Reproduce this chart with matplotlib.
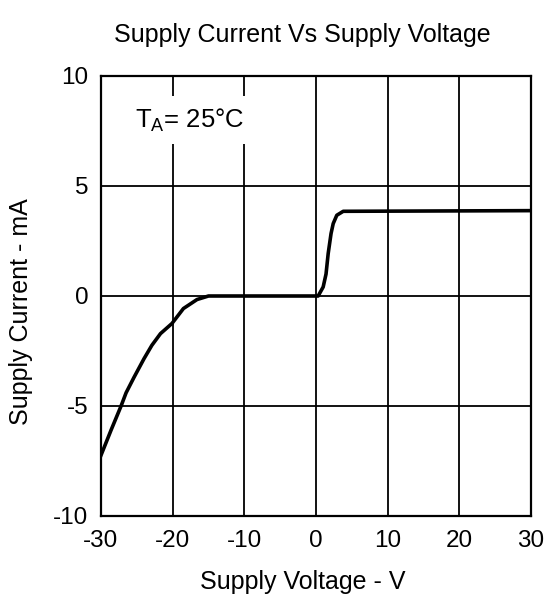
import numpy as np
import matplotlib.pyplot as plt

plt.rcParams['font.family'] = ['Liberation Sans', 'DejaVu Sans']
plt.rcParams['mathtext.fontset'] = 'custom'
plt.rcParams['mathtext.rm'] = 'Liberation Sans'
plt.rcParams['axes.unicode_minus'] = False

# Curve: supply voltage (V) vs supply current (mA)
voltage = [-30.0, -28.6, -27.2, -26.5, -25.4, -24.0, -22.9, -21.7, -20.1,
           -18.5, -16.6, -15.0, 0.0, 0.3, 1.0, 1.4, 1.7, 2.1, 2.4, 2.9, 3.8, 30.0]
current = [-7.24, -6.1, -5.0, -4.4, -3.7, -2.85, -2.24, -1.71, -1.25,
           -0.57, -0.16, 0.0, 0.0, 0.0, 0.41, 1.0, 1.93, 2.84, 3.29, 3.67, 3.85, 3.88]

x_ticks = [-30, -20, -10, 0, 10, 20, 30]
y_ticks = [-10, -5, 0, 5, 10]

W, H = 550, 602
fig = plt.figure(figsize=(W / 100, H / 100), dpi=100)
ax = fig.add_axes([101 / W, 86 / H, 430 / W, 440 / H])

ax.plot(voltage, current, color='black', lw=2.6, solid_joinstyle='round', zorder=3)

ax.set_xlim(-30, 30)
ax.set_ylim(-10, 10)
ax.set_xticks(x_ticks)
ax.set_yticks(y_ticks)
ax.tick_params(length=0, labelsize=17.5)
ax.tick_params(axis='x', pad=10)
ax.tick_params(axis='y', pad=9)
ax.grid(True, color='black', lw=1.3)
for s in ax.spines.values():
    s.set_linewidth(1.6)

fig.text(303 / W, 1 - 582 / H, 'Supply Voltage - V', ha='center', va='center', fontsize=18)
fig.text(21 / W, 1 - 312 / H, 'Supply Current - mA', ha='center', va='center',
         rotation=90, fontsize=18)
fig.text(302 / W, 1 - 35 / H, 'Supply Current Vs Supply Voltage',
         ha='center', va='center', fontsize=18)

ax.text(-25.2, 8.0, r'T$_{\mathrm{A}}$= 25°C', fontsize=18.5, ha='left', va='center',
        bbox=dict(facecolor='white', edgecolor='none', pad=7), zorder=4)

fig.savefig('out.png', dpi=100)
